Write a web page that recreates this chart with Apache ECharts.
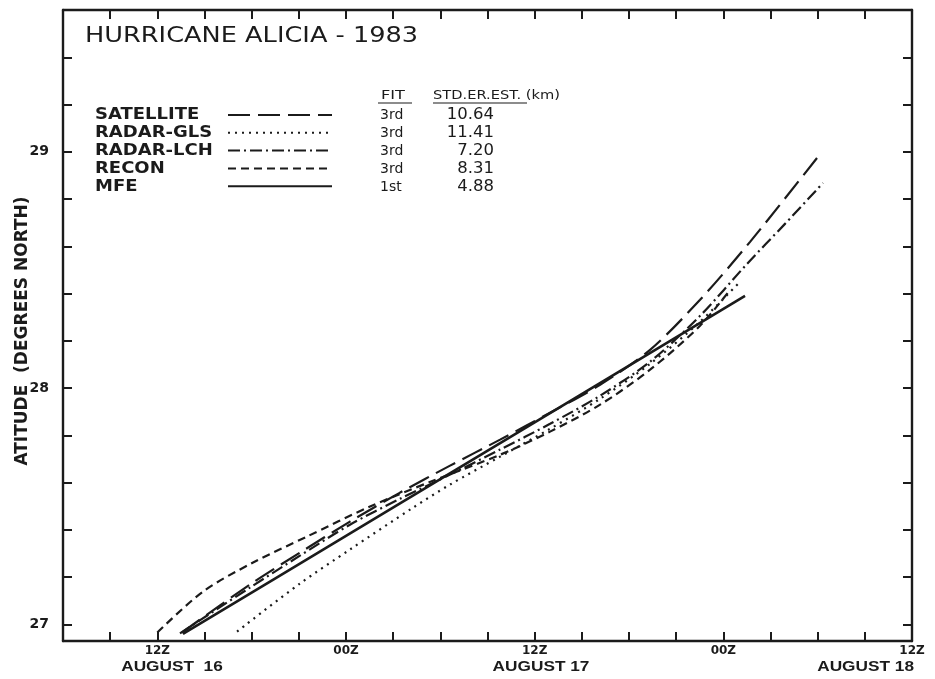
<!DOCTYPE html>
<html><head><meta charset="utf-8">
<script src="https://cdn.jsdelivr.net/npm/echarts@6/dist/echarts.min.js"></script>
<style>html,body{margin:0;padding:0;background:#fff}#c{width:935px;height:679px}</style>
</head><body><div id="c"></div>
<script>
// ---- data (x: hours after 00Z 16 Aug 1983, y: latitude °N) ----
const seriesNames = ['SATELLITE', 'RADAR-GLS', 'RADAR-LCH', 'RECON', 'MFE'];
const fitOrders = ['3rd', '3rd', '3rd', '3rd', '1st'];
const stdErrors = ['10.64', '11.41', '7.20', '8.31', '4.88'];

const satHours = [13.57, 17.89, 21.07, 24.25, 27.44, 30.62, 33.80, 36.98, 40.16, 43.34, 46.52, 49.70, 53.96];
const satLat   = [26.966, 27.169, 27.304, 27.435, 27.558, 27.672, 27.782, 27.896, 28.014, 28.162, 28.374, 28.619, 28.974];

const glsHours = [17.07, 21.07, 24.25, 28.26, 30.62, 33.80, 36.98, 40.16, 43.34, 46.52, 49.06];
const glsLat   = [26.970, 27.173, 27.317, 27.494, 27.592, 27.710, 27.828, 27.955, 28.103, 28.281, 28.450];

const lchHours = [13.44, 17.89, 21.07, 24.25, 27.44, 30.62, 33.80, 36.98, 40.16, 43.34, 46.52, 49.51, 51.92, 54.34];
const lchLat   = [26.962, 27.156, 27.291, 27.422, 27.532, 27.634, 27.740, 27.849, 27.968, 28.112, 28.306, 28.526, 28.695, 28.868];

const reconHours = [12.0, 14.90, 18.09, 21.52, 25.53, 29.53, 33.80, 36.98, 40.16, 43.34, 46.52, 48.43];
const reconLat   = [26.966, 27.139, 27.262, 27.372, 27.499, 27.608, 27.718, 27.816, 27.930, 28.078, 28.264, 28.416];

const mfeHours = [13.63, 24.0, 36.0, 49.38];
const mfeLat   = [26.96, 27.375, 27.855, 28.39];

const xTickHours  = [12, 24, 36, 48, 60];
const xTickLabels = ['12Z', '00Z', '12Z', '00Z', '12Z'];
const dateLabels  = ['AUGUST  16', 'AUGUST 17', 'AUGUST 18'];
const yTickValues = [27, 27.2, 27.4, 27.6, 27.8, 28, 28.2, 28.4, 28.6, 28.8, 29, 29.2, 29.4, 29.6];
const yLabelValues = [27, 28, 29];
const yAxisTitle = 'ATITUDE  (DEGREES NORTH)';

// ---- chart ----
const INK = '#1b1b1b';
const zip = (a, b) => a.map((v, i) => [v, b[i]]);
const dashes = {
  'SATELLITE': [22, 8],
  'RADAR-GLS': [2, 5],
  'RADAR-LCH': [12, 4, 2, 4],
  'RECON': [8, 5],
  'MFE': 'solid'
};
const seriesData = {
  'SATELLITE': zip(satHours, satLat),
  'RADAR-GLS': zip(glsHours, glsLat),
  'RADAR-LCH': zip(lchHours, lchLat),
  'RECON': zip(reconHours, reconLat),
  'MFE': zip(mfeHours, mfeLat)
};

const chart = echarts.init(document.getElementById('c'), null, {renderer: 'canvas'});

const graphics = [];
graphics.push({type: 'text', x: 85, y: 37, scaleX: 1.22,
  style: {text: 'HURRICANE ALICIA - 1983', fill: INK, fontSize: 21, fontFamily: 'DejaVu Sans', textVerticalAlign: 'middle'}});
graphics.push({type: 'text', x: 23, y: 331, rotation: Math.PI / 2,
  style: {text: yAxisTitle, fill: INK, fontSize: 17, fontWeight: 'bold', fontFamily: 'DejaVu Sans', textAlign: 'center', textVerticalAlign: 'middle'}});
graphics.push({type: 'text', x: 381, y: 96, scaleX: 1.35,
  style: {text: 'FIT', fill: INK, fontSize: 12, fontFamily: 'DejaVu Sans', textVerticalAlign: 'middle'}});
graphics.push({type: 'line', shape: {x1: 378, y1: 103, x2: 412, y2: 103}, style: {stroke: INK, lineWidth: 1.2}});
graphics.push({type: 'text', x: 433, y: 96, scaleX: 1.22,
  style: {text: 'STD.ER.EST. (km)', fill: INK, fontSize: 12, fontFamily: 'DejaVu Sans', textVerticalAlign: 'middle'}});
graphics.push({type: 'line', shape: {x1: 433, y1: 103, x2: 527, y2: 103}, style: {stroke: INK, lineWidth: 1.2}});
seriesNames.forEach((n, i) => {
  const y = 115 + i * 18;
  graphics.push({type: 'text', x: 95, y: y, scaleX: 1.2,
    style: {text: n, fill: INK, fontSize: 15, fontWeight: 'bold', fontFamily: 'DejaVu Sans', textVerticalAlign: 'middle'}});
  graphics.push({type: 'text', x: 380, y: y, scaleX: 1.0,
    style: {text: fitOrders[i], fill: INK, fontSize: 14, fontFamily: 'DejaVu Sans', textVerticalAlign: 'middle'}});
  graphics.push({type: 'text', x: 494, y: y, scaleX: 1.1,
    style: {text: stdErrors[i], fill: INK, fontSize: 15, fontFamily: 'DejaVu Sans', textAlign: 'right', textVerticalAlign: 'middle'}});
});
const datePos = [[172, 'center'], [541, 'center'], [914, 'right']];
dateLabels.forEach((t, i) => {
  graphics.push({type: 'text', x: datePos[i][0], y: 667, scaleX: 1.15,
    style: {text: t, fill: INK, fontSize: 15, fontWeight: 'bold', fontFamily: 'Liberation Sans', textAlign: datePos[i][1], textVerticalAlign: 'middle'}});
});

const axisLineStyle = {color: INK, width: 2.4};
const tickStyle = {color: INK, width: 2};

chart.setOption({
  backgroundColor: '#fff',
  animation: false,
  grid: {left: 63, right: 23, top: 10, bottom: 38, containLabel: false, outerBoundsMode: 'none'},
  legend: {
    orient: 'vertical', left: 227, top: 109, padding: 0, itemWidth: 104, itemHeight: 12, itemGap: 7,
    selectedMode: false, formatter: () => '', textStyle: {fontSize: 10},
    itemStyle: {color: 'rgba(0,0,0,0)', borderWidth: 0, opacity: 0},
    data: seriesNames
  },
  xAxis: [{
    type: 'value', position: 'bottom', min: 6, max: 60, interval: 3,
    axisLine: {show: true, lineStyle: axisLineStyle},
    axisTick: {show: true, inside: true, length: 9, lineStyle: tickStyle},
    axisLabel: {
      margin: 4, color: INK, fontSize: 12, fontWeight: 'bold', fontFamily: 'DejaVu Sans',
      formatter: v => { const k = xTickHours.indexOf(v); return k >= 0 ? xTickLabels[k] : ''; },
      showMinLabel: true, showMaxLabel: true
    },
    splitLine: {show: false}
  }, {
    type: 'value', position: 'top', min: 6, max: 60, interval: 3,
    axisLine: {show: true, lineStyle: axisLineStyle},
    axisTick: {show: true, inside: true, length: 9, lineStyle: tickStyle},
    axisLabel: {show: false}, splitLine: {show: false}
  }],
  yAxis: [{
    type: 'value', position: 'left', min: 26.93, max: 29.6,
    axisLine: {show: true, lineStyle: axisLineStyle},
    axisTick: {show: true, inside: true, length: 9, lineStyle: tickStyle, customValues: yTickValues},
    axisLabel: {customValues: yLabelValues, margin: 14, color: INK, fontSize: 14, fontWeight: 'bold',
      fontFamily: 'DejaVu Sans', formatter: v => String(Math.round(v))},
    splitLine: {show: false}
  }, {
    type: 'value', position: 'right', min: 26.93, max: 29.6,
    axisLine: {show: true, lineStyle: axisLineStyle},
    axisTick: {show: true, inside: true, length: 9, lineStyle: tickStyle, customValues: yTickValues},
    axisLabel: {show: false}, splitLine: {show: false}
  }],
  series: seriesNames.map(n => ({
    type: 'line', name: n, data: seriesData[n], xAxisIndex: 0, yAxisIndex: 0,
    symbol: 'none', smooth: 0.3,
    lineStyle: {color: INK, width: n === 'MFE' ? 2.6 : 2.2, type: dashes[n]},
    itemStyle: {color: INK}
  })),
  graphic: graphics
});
</script>
</body></html>
